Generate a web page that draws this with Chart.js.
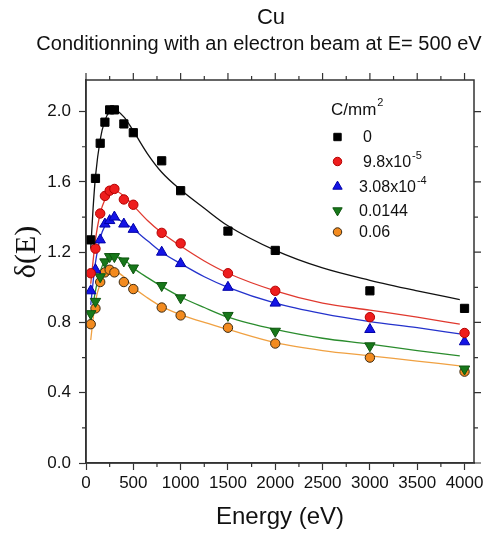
<!DOCTYPE html>
<html>
<head>
<meta charset="utf-8">
<script src="https://cdn.jsdelivr.net/npm/chart.js@4.4.1/dist/chart.umd.min.js"></script>
<style>
  html, body { margin: 0; padding: 0; background: #fff; }
  #wrap { width: 488px; height: 536px; }
</style>
</head>
<body>
<div id="wrap"><canvas id="yieldChart"></canvas></div>
<script>
// measured points (SEY vs primary energy) for each dose
const energies = [50, 100, 150, 200, 250, 300, 400, 500, 800, 1000, 1500, 2000, 3000, 4000];
const dose0     = [1.27, 1.62, 1.82, 1.94, 2.01, 2.01, 1.93, 1.88, 1.72, 1.55, 1.32, 1.21, 0.98, 0.88];
const dose98e5  = [1.08, 1.22, 1.42, 1.52, 1.55, 1.56, 1.50, 1.47, 1.31, 1.25, 1.08, 0.98, 0.83, 0.74];
const dose308e4 = [0.98, 1.10, 1.27, 1.36, 1.38, 1.40, 1.36, 1.33, 1.20, 1.135, 1.00, 0.91, 0.76, 0.69];
const dose0144  = [0.85, 0.92, 1.06, 1.145, 1.175, 1.175, 1.15, 1.11, 1.01, 0.94, 0.84, 0.75, 0.667, 0.535];
const dose006   = [0.79, 0.88, 1.03, 1.085, 1.10, 1.085, 1.03, 0.99, 0.885, 0.84, 0.77, 0.68, 0.60, 0.52];

// fitted curves
const fitEnergies = [50, 75, 100, 150, 200, 250, 300, 400, 500, 650, 800, 1000, 1250, 1500, 2000, 2500, 3000, 3500, 3950];
const fit0     = [1.22, 1.45, 1.63, 1.84, 1.95, 2.00, 2.01, 1.97, 1.89, 1.76, 1.655, 1.555, 1.45, 1.35, 1.21, 1.11, 1.04, 0.98, 0.93];
const fit98e5  = [1.02, 1.15, 1.27, 1.42, 1.50, 1.54, 1.55, 1.52, 1.465, 1.38, 1.31, 1.235, 1.15, 1.08, 0.98, 0.91, 0.87, 0.83, 0.79];
const fit308e4 = [0.90, 1.03, 1.14, 1.28, 1.35, 1.38, 1.39, 1.37, 1.33, 1.265, 1.20, 1.135, 1.06, 1.00, 0.91, 0.85, 0.805, 0.77, 0.735];
const fit0144  = [0.80, 0.90, 0.98, 1.09, 1.15, 1.17, 1.175, 1.16, 1.11, 1.055, 1.005, 0.945, 0.885, 0.83, 0.76, 0.71, 0.677, 0.64, 0.61];
const fit006   = [0.70, 0.82, 0.92, 1.02, 1.07, 1.09, 1.09, 1.06, 1.00, 0.94, 0.89, 0.845, 0.80, 0.76, 0.685, 0.64, 0.61, 0.58, 0.553];

const legendBase = ["0", "9.8x10", "3.08x10", "0.0144", "0.06"];
const legendSup = ["", "-5", "-4", "", ""];
const legendTitle = "C/mm";

const xTicks = [0, 500, 1000, 1500, 2000, 2500, 3000, 3500, 4000];
const xMinor = [250, 750, 1250, 1750, 2250, 2750, 3250, 3750];
const yTicks = [0, 0.4, 0.8, 1.2, 1.6, 2.0];
const yMinor = [0.2, 0.6, 1.0, 1.4, 1.8];

const FONT = "'Liberation Sans', Arial, sans-serif";
const AXIS = "#333";

const toXY = (xs, ys) => xs.map((v, i) => ({ x: v, y: ys[i] }));

const markers = [
  { data: dose0, style: "rect", r: 5.8, fill: "#000000", edge: "#000000", rot: 0 },
  { data: dose98e5, style: "circle", r: 4.7, fill: "#ee1d1d", edge: "#b30000", rot: 0 },
  { data: dose308e4, style: "triangle", r: 6, fill: "#1414e6", edge: "#0000a8", rot: 0 },
  { data: dose0144, style: "triangle", r: 6, fill: "#17781a", edge: "#0e550f", rot: 180 },
  { data: dose006, style: "circle", r: 4.7, fill: "#f38b1f", edge: "#3b2a12", rot: 0 }
];
const fits = [
  { data: fit0, color: "#111111" },
  { data: fit98e5, color: "#e0392f" },
  { data: fit308e4, color: "#2432cc" },
  { data: fit0144, color: "#2a8c2d" },
  { data: fit006, color: "#f0a142" }
];

const datasets = [];
markers.forEach((m, i) => {
  datasets.push({
    label: legendBase[i] + legendSup[i],
    data: toXY(energies, m.data),
    showLine: false,
    pointStyle: m.style,
    pointRadius: m.r,
    pointRotation: m.rot,
    pointBackgroundColor: m.fill,
    pointBorderColor: m.edge,
    pointBorderWidth: 1,
    order: 0
  });
});
fits.forEach(f => {
  datasets.push({
    label: "fit",
    data: toXY(fitEnergies, f.data),
    showLine: true,
    borderColor: f.color,
    borderWidth: 1.3,
    pointRadius: 0,
    cubicInterpolationMode: "monotone",
    order: 1
  });
});

function drawMarker(ctx, m, x, y) {
  ctx.save();
  ctx.fillStyle = m.fill;
  ctx.strokeStyle = m.edge;
  ctx.lineWidth = 1;
  ctx.beginPath();
  if (m.style === "rect") {
    const s = m.r * Math.SQRT1_2;
    ctx.rect(x - s, y - s, 2 * s, 2 * s);
  } else if (m.style === "circle") {
    ctx.arc(x, y, m.r, 0, Math.PI * 2);
  } else {
    const a = m.rot * Math.PI / 180;
    for (let k = 0; k < 3; k++) {
      const t = a + k * 2 * Math.PI / 3;
      const px = x + Math.sin(t) * m.r;
      const py = y - Math.cos(t) * m.r;
      if (k === 0) ctx.moveTo(px, py); else ctx.lineTo(px, py);
    }
    ctx.closePath();
  }
  ctx.fill();
  ctx.stroke();
  ctx.restore();
}

const frameAndLegend = {
  id: "frameAndLegend",
  afterDraw(chart) {
    const { ctx, chartArea: a, scales: { x, y } } = chart;
    ctx.save();
    ctx.strokeStyle = AXIS;
    ctx.lineWidth = 1.5;
    ctx.strokeRect(a.left, a.top, a.right - a.left, a.bottom - a.top);

    ctx.lineWidth = 1.2;
    ctx.beginPath();
    xTicks.forEach(v => {
      const px = x.getPixelForValue(v);
      ctx.moveTo(px, a.top); ctx.lineTo(px, a.top - 7);
    });
    xMinor.forEach(v => {
      const px = x.getPixelForValue(v);
      ctx.moveTo(px, a.top); ctx.lineTo(px, a.top - 4);
      ctx.moveTo(px, a.bottom); ctx.lineTo(px, a.bottom + 4);
    });
    yTicks.forEach(v => {
      const py = y.getPixelForValue(v);
      ctx.moveTo(a.right, py); ctx.lineTo(a.right + 7, py);
    });
    yMinor.forEach(v => {
      const py = y.getPixelForValue(v);
      ctx.moveTo(a.left, py); ctx.lineTo(a.left - 4, py);
      ctx.moveTo(a.right, py); ctx.lineTo(a.right + 4, py);
    });
    ctx.stroke();

    // titles (Origin places them off-centre)
    ctx.fillStyle = "#111";
    ctx.textAlign = "center";
    ctx.textBaseline = "middle";
    ctx.font = "22px " + FONT;
    ctx.fillText("Cu", 271, 18);
    ctx.font = "20px " + FONT;
    ctx.fillText("Conditionning with an electron beam at E= 500 eV", 259, 44);

    // y axis title
    ctx.save();
    ctx.translate(27, 252);
    ctx.rotate(-Math.PI / 2);
    ctx.font = "30px 'Liberation Serif', 'Times New Roman', serif";
    ctx.fillText("\u03b4(E)", 0, 0);
    ctx.restore();

    // legend
    ctx.textAlign = "left";
    ctx.font = "17px " + FONT;
    ctx.fillText(legendTitle, 331, 110);
    const tw = ctx.measureText(legendTitle).width;
    ctx.font = "11px " + FONT;
    ctx.fillText("2", 331 + tw + 1, 103);
    const rows = [137, 161.5, 186.5, 210.5, 232];
    const textX = [363, 363, 359, 359, 359];
    markers.forEach((m, i) => {
      drawMarker(ctx, Object.assign({}, m, { r: m.r * 0.9 }), 337.5, rows[i]);
      ctx.font = "16px " + FONT;
      ctx.fillText(legendBase[i], textX[i], rows[i] + 1);
      if (legendSup[i]) {
        const w = ctx.measureText(legendBase[i]).width;
        ctx.font = "11px " + FONT;
        ctx.fillText(legendSup[i], textX[i] + w + 1, rows[i] - 6);
      }
    });
    ctx.restore();
  }
};

new Chart(document.getElementById("yieldChart"), {
  type: "scatter",
  data: { datasets: datasets },
  options: {
    responsive: true,
    maintainAspectRatio: false,
    animation: false,
    layout: { padding: { top: 80, right: 14, bottom: 0, left: 0 } },
    plugins: {
      legend: { display: false },
      tooltip: { enabled: false }
    },
    scales: {
      x: {
        type: "linear",
        min: 0,
        max: 4100,
        afterBuildTicks: s => { s.ticks = xTicks.map(v => ({ value: v })); },
        afterFit: s => { s.height = 73; },
        ticks: { color: "#111", font: { family: FONT, size: 17 }, padding: 3, maxRotation: 0, callback: v => String(v) },
        grid: { drawOnChartArea: false, tickLength: 7, tickColor: AXIS, tickWidth: 1.2 },
        border: { color: AXIS, width: 1.5 },
        title: {
          display: true,
          text: "Energy (eV)",
          color: "#111",
          font: { family: FONT, size: 24 },
          padding: { top: 0, bottom: 4 }
        }
      },
      y: {
        type: "linear",
        min: 0,
        max: 2.18,
        afterBuildTicks: s => { s.ticks = yTicks.map(v => ({ value: v })); },
        afterFit: s => { s.width = 86; },
        ticks: { color: "#111", font: { family: FONT, size: 17 }, padding: 8, callback: v => v.toFixed(1) },
        grid: { drawOnChartArea: false, tickLength: 7, tickColor: AXIS, tickWidth: 1.2 },
        border: { color: AXIS, width: 1.5 }
      }
    }
  },
  plugins: [frameAndLegend]
});
</script>
</body>
</html>
